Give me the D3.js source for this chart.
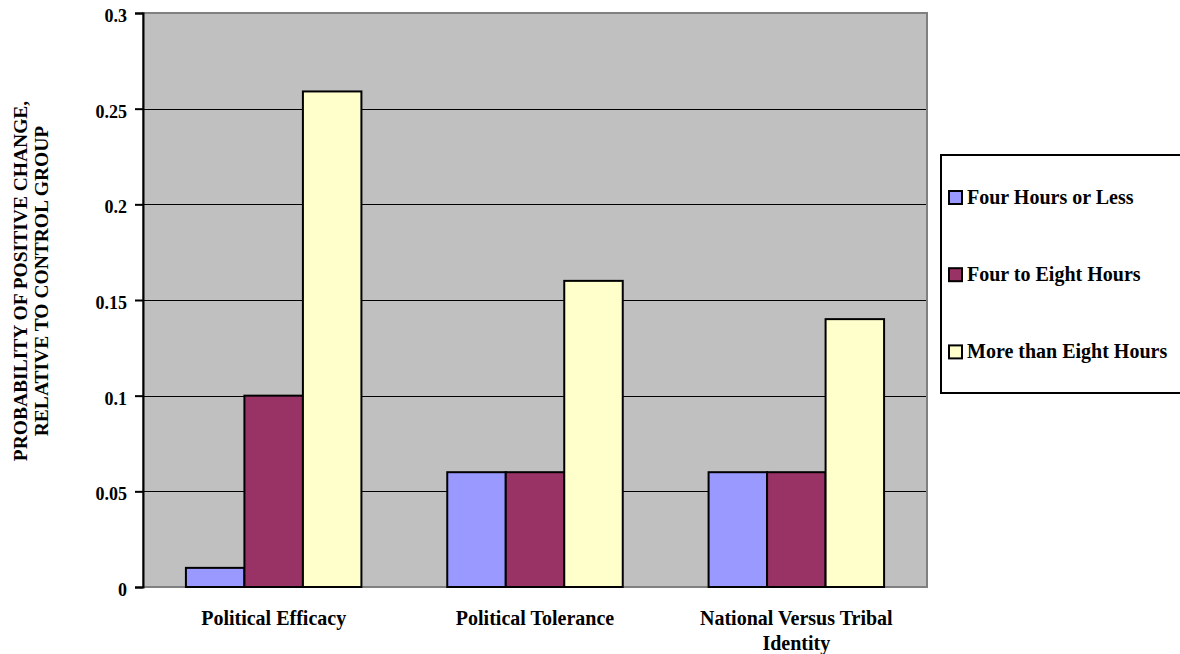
<!DOCTYPE html>
<html><head><meta charset="utf-8">
<script src="https://cdn.jsdelivr.net/npm/d3@7"></script>
<style>body{margin:0;background:#fff}text{font-family:"Liberation Serif","Times New Roman",serif;font-weight:bold}</style>
</head><body><svg id="c" width="1180" height="654"></svg>
<script>
const categories = [["Political Efficacy"],["Political Tolerance"],["National Versus Tribal","Identity"]];
const seriesNames = ["Four Hours or Less","Four to Eight Hours","More than Eight Hours"];
const fourOrLess = [0.01, 0.06, 0.06];
const fourToEight = [0.10, 0.06, 0.06];
const moreThanEight = [0.259, 0.16, 0.14];
const colors = ["#9999ff","#993366","#ffffcc"];
const yTicks = [0,0.05,0.1,0.15,0.2,0.25,0.3];
const yTickLabels = ["0","0.05","0.1","0.15","0.2","0.25","0.3"];
const series = [fourOrLess, fourToEight, moreThanEight];

const svg = d3.select("#c");
const L=143, R=927, T=13, B=587;
const x0 = d3.scaleBand().domain(d3.range(categories.length)).range([L,R]).paddingInner(0).paddingOuter(0);
const bw = 58.5;
const y = d3.scaleLinear().domain([0,0.3]).range([B,T]);

svg.append("rect").attr("x",L).attr("y",T).attr("width",R-L).attr("height",B-T).attr("fill","#c0c0c0");
svg.append("g").selectAll("line").data(yTicks.filter(d=>d>0&&d<0.3)).join("line")
  .attr("x1",L).attr("x2",R).attr("y1",d=>Math.round(y(d))+0.5).attr("y2",d=>Math.round(y(d))+0.5)
  .attr("stroke","#000").attr("stroke-width",1);
svg.append("rect").attr("x",L).attr("y",T).attr("width",R-L).attr("height",B-T).attr("fill","none").attr("stroke","#808080").attr("stroke-width",2);

const g = svg.append("g");
series.forEach((s,i)=>{
  g.selectAll(null).data(s).join("rect")
   .attr("x",(d,j)=>x0(j)+x0.bandwidth()/2-1.5*bw+i*bw)
   .attr("y",d=>y(d)).attr("width",bw).attr("height",d=>B-y(d))
   .attr("fill",colors[i]).attr("stroke","#000").attr("stroke-width",2);
});

const ya = svg.append("g").attr("transform",`translate(${L},0)`)
  .call(d3.axisLeft(y).tickValues(yTicks).tickFormat((d,i)=>yTickLabels[i]).tickSizeOuter(0).tickSize(8).tickPadding(8));
ya.select(".domain").attr("stroke","#000").attr("stroke-width",2);
ya.selectAll(".tick line").attr("stroke","#000").attr("stroke-width",2);
ya.selectAll("text").attr("font-size",18).attr("dy","0.47em").attr("fill","#000").style("font-family",'"Liberation Serif",serif').style("font-weight","bold");

categories.forEach((lines,j)=>{
  const cx = x0(j)+x0.bandwidth()/2;
  const t = svg.append("text").attr("x",cx).attr("y",625).attr("text-anchor","middle").attr("font-size",20);
  lines.forEach((ln,k)=>t.append("tspan").attr("x",cx).attr("dy",k?25:0).text(ln));
});

const yt = svg.append("text").attr("transform","translate(0,281) rotate(-90)").attr("text-anchor","middle").attr("font-size",19.5);
yt.append("tspan").attr("x",0).attr("y",27).text("PROBABILITY OF POSITIVE CHANGE,");
yt.append("tspan").attr("x",0).attr("y",48).text("RELATIVE TO CONTROL GROUP");

svg.append("rect").attr("x",941).attr("y",155).attr("width",241).attr("height",238).attr("fill","#fff").attr("stroke","#000").attr("stroke-width",2);
seriesNames.forEach((n,i)=>{
  const base = 203.5 + i*77.2;
  svg.append("rect").attr("x",949).attr("y",base-12.5).attr("width",13).attr("height",13).attr("fill",colors[i]).attr("stroke","#000").attr("stroke-width",2);
  svg.append("text").attr("x",967).attr("y",base).attr("font-size",20).text(n);
});
</script></body></html>
